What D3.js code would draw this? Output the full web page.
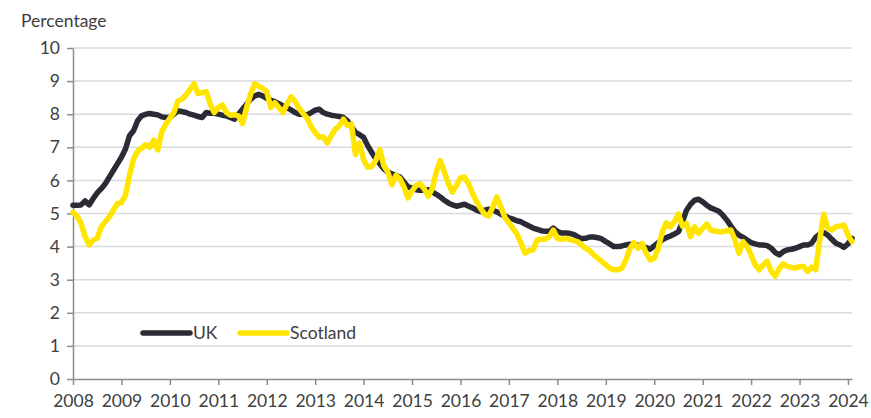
<!DOCTYPE html>
<html>
<head>
<meta charset="utf-8">
<script src="https://cdn.jsdelivr.net/npm/d3@7"></script>
<style>
  body { margin: 0; background: #fff; }
  svg text { font-family: Lato, "Open Sans", sans-serif; fill: #404040; }
</style>
</head>
<body>
<svg id="chart"></svg>
<script>
// monthly values, Jan 2008 .. Feb 2024
const ukValues = [
  5.25, 5.25, 5.26, 5.38, 5.26, 5.45, 5.62, 5.75, 5.9, 6.1, 6.3, 6.5,      // 2008
  6.7, 6.95, 7.35, 7.5, 7.8, 7.95, 8.0, 8.02, 8.0, 7.98, 7.92, 7.9,        // 2009
  7.9, 8.0, 8.1, 8.08, 8.05, 8.0, 7.97, 7.93, 7.9, 8.05, 8.03, 8.03,       // 2010
  8.0, 7.97, 7.95, 7.9, 7.85, 8.0, 8.15, 8.3, 8.45, 8.55, 8.6, 8.55,       // 2011
  8.48, 8.42, 8.38, 8.32, 8.25, 8.2, 8.13, 8.05, 8.0, 8.0, 7.98, 8.05,     // 2012
  8.12, 8.15, 8.05, 8.0, 7.97, 7.95, 7.93, 7.9, 7.8, 7.62, 7.45, 7.38,     // 2013
  7.3, 7.05, 6.85, 6.65, 6.5, 6.35, 6.25, 6.2, 6.15, 6.1, 5.95, 5.8,       // 2014
  5.77, 5.72, 5.7, 5.7, 5.72, 5.65, 5.58, 5.5, 5.4, 5.32, 5.26, 5.22,      // 2015
  5.25, 5.28, 5.22, 5.17, 5.1, 5.06, 5.1, 5.13, 5.1, 5.05, 4.98, 4.92,     // 2016
  4.87, 4.83, 4.78, 4.75, 4.68, 4.62, 4.56, 4.52, 4.48, 4.46, 4.46, 4.56,  // 2017
  4.46, 4.41, 4.41, 4.4, 4.37, 4.3, 4.24, 4.25, 4.29, 4.29, 4.27, 4.23,    // 2018
  4.15, 4.08, 4.0, 4.0, 4.02, 4.05, 4.07, 4.06, 4.04, 4.01, 3.97, 3.92,    // 2019
  4.02, 4.12, 4.2, 4.27, 4.32, 4.38, 4.45, 4.75, 5.1, 5.28, 5.4, 5.43,     // 2020
  5.35, 5.25, 5.17, 5.12, 5.07, 4.95, 4.8, 4.62, 4.45, 4.35, 4.28, 4.2,    // 2021
  4.12, 4.08, 4.05, 4.05, 4.03, 3.95, 3.82, 3.75, 3.85, 3.9, 3.92, 3.95,   // 2022
  4.0, 4.05, 4.05, 4.1, 4.28, 4.38, 4.42, 4.35, 4.22, 4.1, 4.05, 3.98,     // 2023
  4.08, 4.25                                                               // 2024
];
const scotlandValues = [
  5.03, 4.92, 4.7, 4.3, 4.05, 4.2, 4.25, 4.6, 4.75, 4.9, 5.1, 5.3,         // 2008
  5.33, 5.55, 6.15, 6.65, 6.88, 6.97, 7.08, 7.0, 7.22, 6.92, 7.48, 7.7,    // 2009
  7.88, 8.05, 8.4, 8.45, 8.58, 8.75, 8.92, 8.62, 8.65, 8.68, 8.3, 8.05,    // 2010
  8.2, 8.28, 8.05, 7.97, 7.98, 7.95, 7.72, 8.2, 8.6, 8.92, 8.85, 8.78,     // 2011
  8.68, 8.2, 8.35, 8.2, 8.05, 8.3, 8.52, 8.4, 8.18, 8.02, 7.88, 7.62,      // 2012
  7.45, 7.3, 7.32, 7.13, 7.35, 7.55, 7.65, 7.85, 7.66, 7.7, 6.78, 7.13,    // 2013
  6.62, 6.4, 6.42, 6.6, 6.93, 6.45, 6.25, 5.87, 6.15, 6.05, 5.8, 5.47,     // 2014
  5.68, 5.85, 5.9, 5.75, 5.52, 5.75, 6.25, 6.6, 6.25, 5.9, 5.65, 5.85,     // 2015
  6.08, 6.1, 5.9, 5.6, 5.35, 5.15, 4.98, 4.92, 5.2, 5.5, 5.2, 4.88,        // 2016
  4.72, 4.55, 4.38, 4.1, 3.8, 3.88, 3.9, 4.2, 4.22, 4.22, 4.3, 4.5,        // 2017
  4.25, 4.22, 4.25, 4.22, 4.18, 4.15, 4.05, 3.95, 3.88, 3.75, 3.65, 3.55,  // 2018
  3.45, 3.35, 3.3, 3.3, 3.35, 3.6, 3.95, 4.12, 3.95, 4.1, 3.8, 3.6,        // 2019
  3.65, 3.95, 4.45, 4.72, 4.6, 4.75, 4.98, 4.62, 4.7, 4.3, 4.6, 4.4,       // 2020
  4.55, 4.68, 4.5, 4.47, 4.45, 4.45, 4.48, 4.5, 4.2, 3.8, 4.15, 4.0,       // 2021
  3.75, 3.45, 3.3, 3.45, 3.55, 3.25, 3.1, 3.35, 3.48, 3.4, 3.37, 3.35,     // 2022
  3.4, 3.4, 3.25, 3.38, 3.3, 4.2, 4.98, 4.55, 4.5, 4.6, 4.62, 4.65,        // 2023
  4.35, 4.15                                                               // 2024
];
const yearTicks = d3.range(2008, 2025);
const yTicks = d3.range(0, 11);

const seriesList = [
  { name: "UK", values: ukValues, color: "#2b2b36" },
  { name: "Scotland", values: scotlandValues, color: "#ffe500" }
];

const svg = d3.select("#chart")
  .attr("width", 871)
  .attr("height", 418);

const margin = { top: 48, right: 19, bottom: 39, left: 73 };
const width = 871 - margin.left - margin.right;
const height = 418 - margin.top - margin.bottom;

const x = d3.scaleLinear()
  .domain([2008, 2008 + (ukValues.length - 1) / 12])
  .range([0, width]);
const y = d3.scaleLinear()
  .domain([0, 10])
  .range([height, 0]);

const g = svg.append("g")
  .attr("transform", `translate(${margin.left},${margin.top})`);

// gridlines
g.selectAll(".grid")
  .data(yTicks.filter(d => d > 0))
  .enter().append("line")
  .attr("class", "grid")
  .attr("x1", 0)
  .attr("x2", width)
  .attr("y1", d => y(d))
  .attr("y2", d => y(d))
  .attr("stroke", "#d9d9de")
  .attr("stroke-width", 1.5);

// y axis
const yAxis = g.append("g")
  .call(d3.axisLeft(y).tickValues(yTicks).tickSize(6).tickSizeOuter(0).tickPadding(7));
yAxis.select(".domain").attr("stroke", "#8c8c8c").attr("stroke-width", 1.5);
yAxis.selectAll(".tick line").attr("stroke", "#8c8c8c").attr("stroke-width", 1.5);
yAxis.selectAll("text").style("font-size", "17.5px");

// x axis
const xAxis = g.append("g")
  .attr("transform", `translate(0,${height})`)
  .call(d3.axisBottom(x).tickValues(yearTicks).tickFormat(d3.format("d")).tickSize(6).tickSizeOuter(0).tickPadding(10));
xAxis.select(".domain").attr("stroke", "#8c8c8c").attr("stroke-width", 1.5);
xAxis.selectAll(".tick line").attr("stroke", "#8c8c8c").attr("stroke-width", 1.5);
xAxis.selectAll("text").style("font-size", "17.5px");

// lines
const line = d3.line()
  .x((d, i) => x(2008 + i / 12))
  .y(d => y(d));

g.selectAll(".series")
  .data(seriesList)
  .enter().append("path")
  .attr("class", "series")
  .attr("d", d => line(d.values))
  .attr("fill", "none")
  .attr("stroke", d => d.color)
  .attr("stroke-width", 5.5)
  .attr("stroke-linejoin", "round")
  .attr("stroke-linecap", "round");

// y label
svg.append("text")
  .attr("x", 21)
  .attr("y", 27)
  .style("font-size", "17.5px")
  .text("Percentage");

// legend
const legend = svg.append("g")
  .attr("transform", "translate(143,333)");
const legendItem = legend.selectAll(".legend-item")
  .data(seriesList)
  .enter().append("g")
  .attr("class", "legend-item")
  .attr("transform", (d, i) => `translate(${i * 97},0)`);
legendItem.append("line")
  .attr("x1", 0)
  .attr("x2", 47)
  .attr("stroke", d => d.color)
  .attr("stroke-width", 5.5)
  .attr("stroke-linecap", "round");
legendItem.append("text")
  .attr("x", 50)
  .attr("dy", "0.36em")
  .style("font-size", "17.5px")
  .text(d => d.name);
</script>
</body>
</html>
